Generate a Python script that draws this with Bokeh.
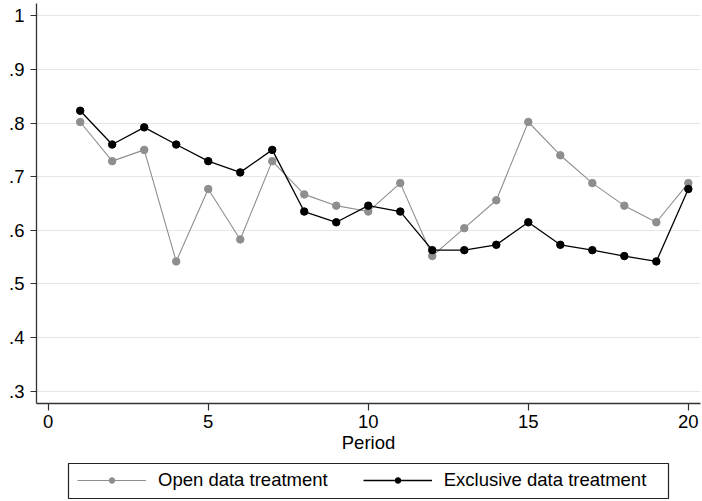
from bokeh.plotting import figure
from bokeh.layouts import column
from bokeh.models import Range1d, FixedTicker, CustomJSTickFormatter, Legend, LegendItem
from bokeh.embed import file_html
from bokeh.resources import INLINE

periods = list(range(1, 21))
open_data = [0.802, 0.729, 0.750, 0.542, 0.677, 0.583, 0.729, 0.667, 0.646, 0.635,
             0.688, 0.552, 0.604, 0.656, 0.802, 0.740, 0.688, 0.646, 0.615, 0.688]
exclusive_data = [0.823, 0.760, 0.792, 0.760, 0.729, 0.708, 0.750, 0.635, 0.615, 0.646,
                  0.635, 0.563, 0.563, 0.573, 0.615, 0.573, 0.563, 0.552, 0.542, 0.677]
x_ticks = [0, 5, 10, 15, 20]
y_ticks = [0.3, 0.4, 0.5, 0.6, 0.7, 0.8, 0.9, 1.0]
series_names = ["Open data treatment", "Exclusive data treatment"]
x_label = "Period"

FONT = "Liberation Sans"
FS = "18.5px"
GRAY = "#8e8e8e"
BLACK = "#000000"

H1 = 458
p = figure(width=702, height=H1, output_backend="svg", toolbar_location=None,
           x_range=Range1d(-0.365, 20.38), y_range=Range1d(0.277, 1.023),
           min_border_left=36, min_border_right=2, min_border_top=3,
           min_border_bottom=H1 - 403)
p.frame_align = False
p.outline_line_color = None
p.background_fill_color = "white"
p.border_fill_color = "white"

p.xgrid.visible = False
p.ygrid.grid_line_color = "#e6e6e6"
p.ygrid.grid_line_width = 1

p.xaxis.ticker = FixedTicker(ticks=x_ticks)
p.yaxis.ticker = FixedTicker(ticks=y_ticks)
p.yaxis.formatter = CustomJSTickFormatter(code="""
const s = tick.toFixed(1);
if (s == "1.0") return "1";
return s.replace(/^0/, "");
""")
for ax in (p.xaxis[0], p.yaxis[0]):
    ax.axis_line_color = "#333333"
    ax.axis_line_width = 1.3
    ax.major_tick_line_color = "#333333"
    ax.major_tick_line_width = 1.2
    ax.major_tick_in = 0
    ax.major_tick_out = 7
    ax.minor_tick_line_color = None
    ax.major_label_text_font = FONT
    ax.major_label_text_font_size = FS
    ax.major_label_text_color = "black"
p.yaxis.major_tick_out = 6
p.yaxis.major_label_standoff = 6
p.xaxis.major_label_standoff = 4
p.xaxis.axis_label = x_label
p.xaxis.axis_label_text_font = FONT
p.xaxis.axis_label_text_font_size = FS
p.xaxis.axis_label_text_font_style = "normal"
p.xaxis.axis_label_text_color = "black"
p.xaxis.axis_label_standoff = 1

l1 = p.line(periods, open_data, line_color=GRAY, line_width=1.1)
s1 = p.scatter(periods, open_data, size=7.5, fill_color=GRAY, line_color=GRAY)
l2 = p.line(periods, exclusive_data, line_color=BLACK, line_width=1.3)
s2 = p.scatter(periods, exclusive_data, size=7.5, fill_color=BLACK, line_color=BLACK)

# legend strip below the plot; its frame is the legend box
H2 = 501 - H1
q = figure(width=702, height=H2, output_backend="svg", toolbar_location=None,
           x_axis_type=None, y_axis_type=None,
           x_range=Range1d(-100, -99), y_range=Range1d(-100, -99),
           min_border_left=68, min_border_right=702 - 668,
           min_border_top=463 - H1, min_border_bottom=501 - 498)
q.frame_align = False
q.outline_line_color = "#222222"
q.outline_line_width = 1.2
q.xgrid.visible = False
q.ygrid.visible = False
q.background_fill_color = "white"
q.border_fill_color = "white"
ql1 = q.line(periods, open_data, line_color=GRAY, line_width=1.1)
qs1 = q.scatter(periods, open_data, fill_color=GRAY, line_color=GRAY)
ql2 = q.line(periods, exclusive_data, line_color=BLACK, line_width=1.3)
qs2 = q.scatter(periods, exclusive_data, fill_color=BLACK, line_color=BLACK)

legend = Legend(items=[LegendItem(label=series_names[0], renderers=[ql1, qs1]),
                       LegendItem(label=series_names[1], renderers=[ql2, qs2])],
                orientation="horizontal", location=(9, 7),
                label_text_font=FONT, label_text_font_size=FS, label_text_color="black",
                glyph_width=69, glyph_height=14, label_standoff=12, spacing=35,
                padding=0, margin=0,
                border_line_color=None, background_fill_alpha=0.0)
q.add_layout(legend, "center")

layout = column(p, q, spacing=0)
open("out.html", "w").write(file_html(layout, INLINE))
